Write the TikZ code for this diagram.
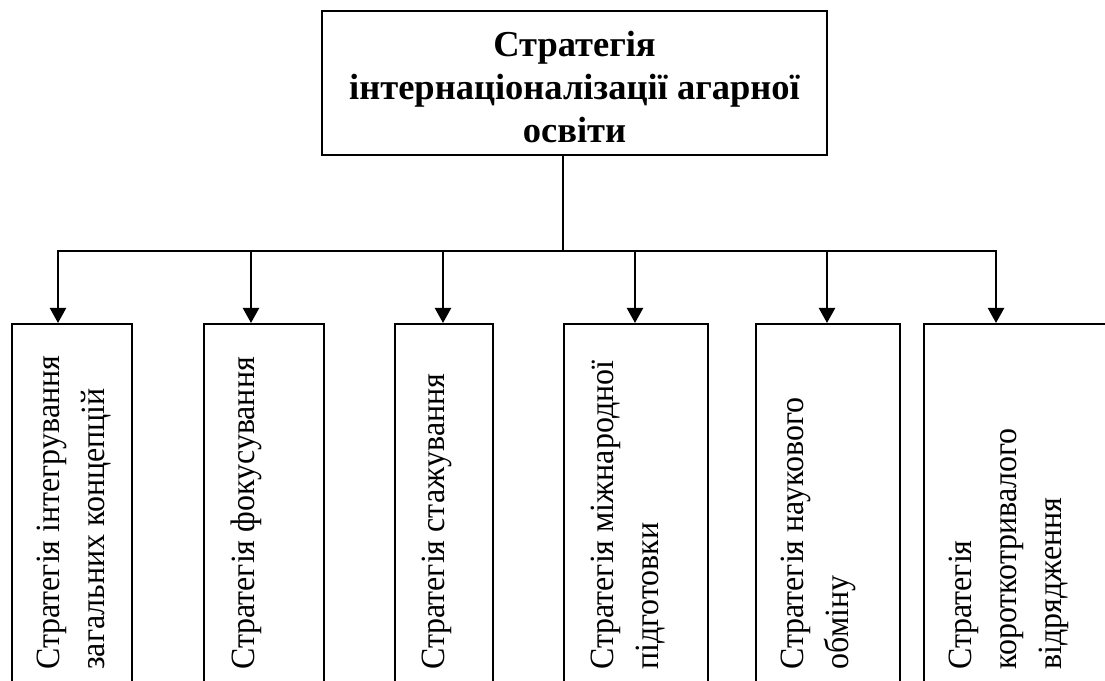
\documentclass[tikz,border=0pt]{standalone}
\usepackage{fontspec}
\setmainfont{Liberation Serif}
\newfontfamily\vfont[FakeStretch=0.94]{Liberation Serif}
\usetikzlibrary{arrows.meta}
\begin{document}
\begin{tikzpicture}[x=1pt,y=1pt,
  ln/.style={line width=2.2pt, line cap=rect},
  arr/.style={line width=2.2pt, -{Triangle[width=16pt,length=15pt]}},
  lowbox/.style={draw, line width=2.2pt, anchor=north west, minimum height=377pt, inner sep=0pt},
  vtext/.style={rotate=90, anchor=north west, inner sep=0pt, align=left, font=\vfont\fontsize{34}{45}\selectfont}
]
\useasboundingbox (0,0) rectangle (1105,680);
\clip (0,0) rectangle (1105,680);
% top box
\node[draw, line width=2.2pt, minimum width=505pt, minimum height=144pt, inner sep=0pt, align=center,
      font=\bfseries\fontsize{36.5}{43}\selectfont] (top) at (574.5,597)
  {\rule{0pt}{34pt}Стратегія\\інтернаціоналізації агарної\\освіти};
% lower boxes
\node[lowbox, minimum width=120pt] (b1) at (11,357) {};
\node[lowbox, minimum width=120pt] (b2) at (203,357) {};
\node[lowbox, minimum width=98pt]  (b3) at (394,357) {};
\node[lowbox, minimum width=144pt] (b4) at (563,357) {};
\node[lowbox, minimum width=144pt] (b5) at (755,357) {};
\node[lowbox, minimum width=217pt] (b6) at (923,357) {};
% texts
\node[vtext] (t1) at (37,10) {Стратегія інтегрування\\загальних концепцій};
\node[vtext] (t2) at (231,10) {Стратегія фокусування};
\node[vtext] (t3) at (422,10) {Стратегія стажування};
\node[vtext] (t4) at (591,10) {Стратегія міжнародної\\підготовки};
\node[vtext] (t5) at (781,10) {Стратегія наукового\\обміну};
\node[vtext] (t6) at (949,10) {Стратегія\\короткотривалого\\відрядження};
% connectors
\coordinate (j) at (563,429);
\coordinate (h1) at (58,429);
\coordinate (h2) at (251,429);
\coordinate (h3) at (443,429);
\coordinate (h4) at (635,429);
\coordinate (h5) at (827,429);
\coordinate (h6) at (996,429);
\draw[ln] (top.south -| j) -- (j);
\draw[ln] (h1) -- (h6);
\draw[arr] (h1) -- (h1 |- b1.north);
\draw[arr] (h2) -- (h2 |- b2.north);
\draw[arr] (h3) -- (h3 |- b3.north);
\draw[arr] (h4) -- (h4 |- b4.north);
\draw[arr] (h5) -- (h5 |- b5.north);
\draw[arr] (h6) -- (h6 |- b6.north);
\end{tikzpicture}
\end{document}
